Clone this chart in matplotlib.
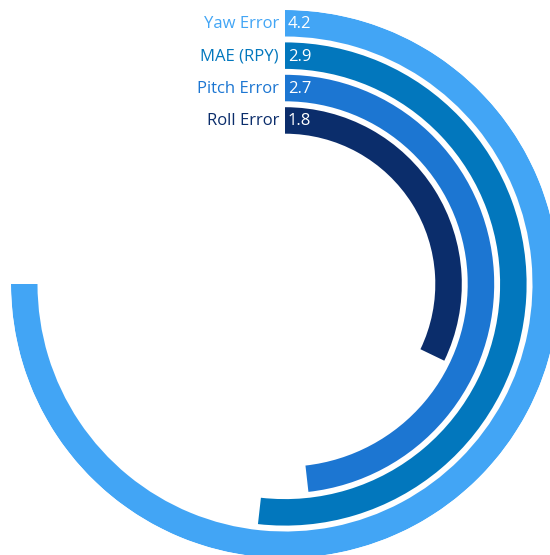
import numpy as np
import matplotlib.pyplot as plt

# Attitude error metrics, outermost ring first
metrics = ["Yaw Error", "MAE (RPY)", "Pitch Error", "Roll Error"]
values = [4.2, 2.9, 2.7, 1.8]
colors = ["#42A5F5", "#0277BD", "#1C76D2", "#0B2D6B"]
scale_max = 5.6  # full circle

W, H = 550, 555
fig = plt.figure(figsize=(W / 100, H / 100), dpi=100)

# polar axes centred at (285, 284) px with radius 274 px
cx, cy, R = 285, 284, 274
ax = fig.add_axes([(cx - R) / W, (H - cy - R) / H, 2 * R / W, 2 * R / H], projection="polar")
ax.set_theta_zero_location("N")
ax.set_theta_direction(-1)
ax.set_ylim(0, R)
ax.axis("off")

ring_step = 32.4
ring_width = 26.5
for i, (name, val, col) in enumerate(zip(metrics, values, colors)):
    outer = R - i * ring_step
    sweep = val / scale_max * 2 * np.pi
    ax.bar(0, ring_width, width=sweep, bottom=outer - ring_width, align="edge",
           color=col, edgecolor="none")
    mid = outer - ring_width / 2
    ypx = cy - mid + 1
    fig.text((cx - 6) / W, (H - ypx) / H, name, color=col, ha="right", va="center",
             fontsize=12, family="Open Sans")
    fig.text((cx + 3) / W, (H - ypx) / H, f"{val:.1f}", color="white", ha="left",
             va="center", fontsize=12, family="Open Sans")

fig.savefig("out.png", dpi=100)
